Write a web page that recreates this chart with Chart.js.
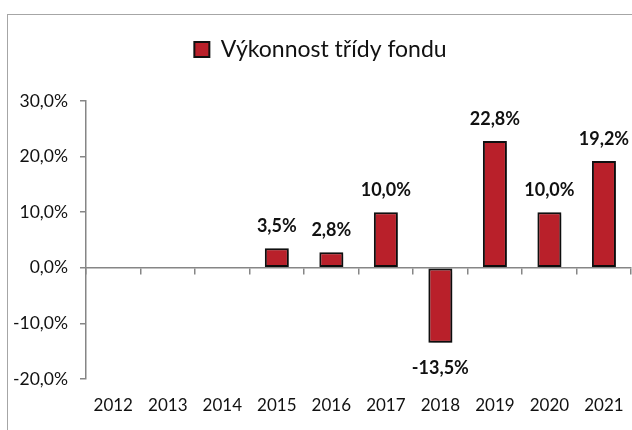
<!DOCTYPE html>
<html lang="cs">
<head>
<meta charset="utf-8">
<title>Výkonnost třídy fondu</title>
<script src="https://cdn.jsdelivr.net/npm/chart.js@4.4.1/dist/chart.umd.min.js"></script>
<style>
  html, body { margin: 0; padding: 0; background: #fff; overflow: hidden; }
  #frame { position: absolute; left: 7px; top: 14px; width: 700px; height: 500px; border: 1px solid #a6a6a6; }
  #perf { position: absolute; left: 0; top: 0; }
</style>
</head>
<body>
<div id="frame"></div>
<canvas id="perf" width="640" height="430"></canvas>
<script>
// chart data
const years = ['2012', '2013', '2014', '2015', '2016', '2017', '2018', '2019', '2020', '2021'];
const fundReturns = [null, null, null, 3.5, 2.8, 10.0, -13.5, 22.8, 10.0, 19.2];
const seriesName = 'Výkonnost třídy fondu';
const yMin = -20;
const yMax = 30;
const yStep = 10;

const BAR_RED = '#B9202A';
const AXIS_GREY = '#868686';
const TEXT = '#111';
const FONT = 'Lato';

function pct(v) {
  return v.toFixed(1).replace('.', ',') + '%';
}

// taller legend box so the plot starts lower
const legendSpace = {
  id: 'legendSpace',
  beforeInit(chart) {
    const fit = chart.legend.fit;
    chart.legend.fit = function () {
      fit.call(this);
      this.height = 101;
    };
  },
};

// soft drop shadow under the bars
const barShadow = {
  id: 'barShadow',
  beforeDatasetsDraw(chart) {
    const ctx = chart.ctx;
    ctx.save();
    ctx.shadowColor = 'rgba(0,0,0,0.35)';
    ctx.shadowBlur = 4;
    ctx.shadowOffsetX = 2;
    ctx.shadowOffsetY = 2;
  },
  afterDatasetsDraw(chart) {
    chart.ctx.restore();
  },
};

// value labels above / below each bar
const valueLabels = {
  id: 'valueLabels',
  afterDraw(chart) {
    const ctx = chart.ctx;
    const meta = chart.getDatasetMeta(0);
    ctx.save();
    ctx.font = 'bold 18px ' + FONT;
    ctx.fillStyle = TEXT;
    ctx.textAlign = 'center';
    ctx.textBaseline = 'middle';
    meta.data.forEach(function (bar, i) {
      const v = fundReturns[i];
      if (v === null) return;
      const y = v >= 0 ? bar.y - 22 : bar.y + 25;
      ctx.fillText(pct(v), bar.x, y);
    });
    ctx.restore();
  },
};

new Chart(document.getElementById('perf'), {
  type: 'bar',
  data: {
    labels: years,
    datasets: [{
      label: seriesName,
      data: fundReturns,
      backgroundColor: BAR_RED,
      borderColor: '#111',
      borderWidth: 2,
      borderSkipped: false,
      barPercentage: 0.44,
      categoryPercentage: 1,
      xAxisID: 'x',
    }],
  },
  options: {
    responsive: false,
    animation: false,
    layout: { padding: { left: 8, right: 7, top: 0, bottom: 0 } },
    plugins: {
      tooltip: { enabled: false },
      legend: {
        position: 'top',
        labels: {
          color: TEXT,
          font: { family: FONT, size: 23 },
          boxWidth: 15,
          boxHeight: 15,
          padding: 38,
        },
      },
    },
    scales: {
      x: {
        type: 'category',
        position: 'bottom',
        offset: true,
        grid: { display: false, drawTicks: false },
        border: { display: false },
        ticks: { color: TEXT, font: { family: FONT, size: 17 }, padding: 16, maxRotation: 0 },
        afterFit(s) { s.height = 51; },
      },
      xZero: {
        type: 'category',
        axis: 'x',
        position: { y: 0 },
        offset: true,
        grid: { offset: true, drawOnChartArea: false, tickLength: 6, color: AXIS_GREY, lineWidth: 1.5 },
        border: { color: AXIS_GREY, width: 1.5 },
        ticks: { display: false },
      },
      y: {
        min: yMin,
        max: yMax,
        grid: { drawOnChartArea: false, tickLength: 6, color: AXIS_GREY, lineWidth: 1.5 },
        border: { color: AXIS_GREY, width: 1.5 },
        ticks: {
          stepSize: yStep,
          color: TEXT,
          padding: 12,
          font: { family: FONT, size: 17.5 },
          callback: function (v) { return pct(v); },
        },
        afterFit(s) { s.width = 78; },
      },
    },
  },
  plugins: [legendSpace, barShadow, valueLabels],
});
</script>
</body>
</html>
